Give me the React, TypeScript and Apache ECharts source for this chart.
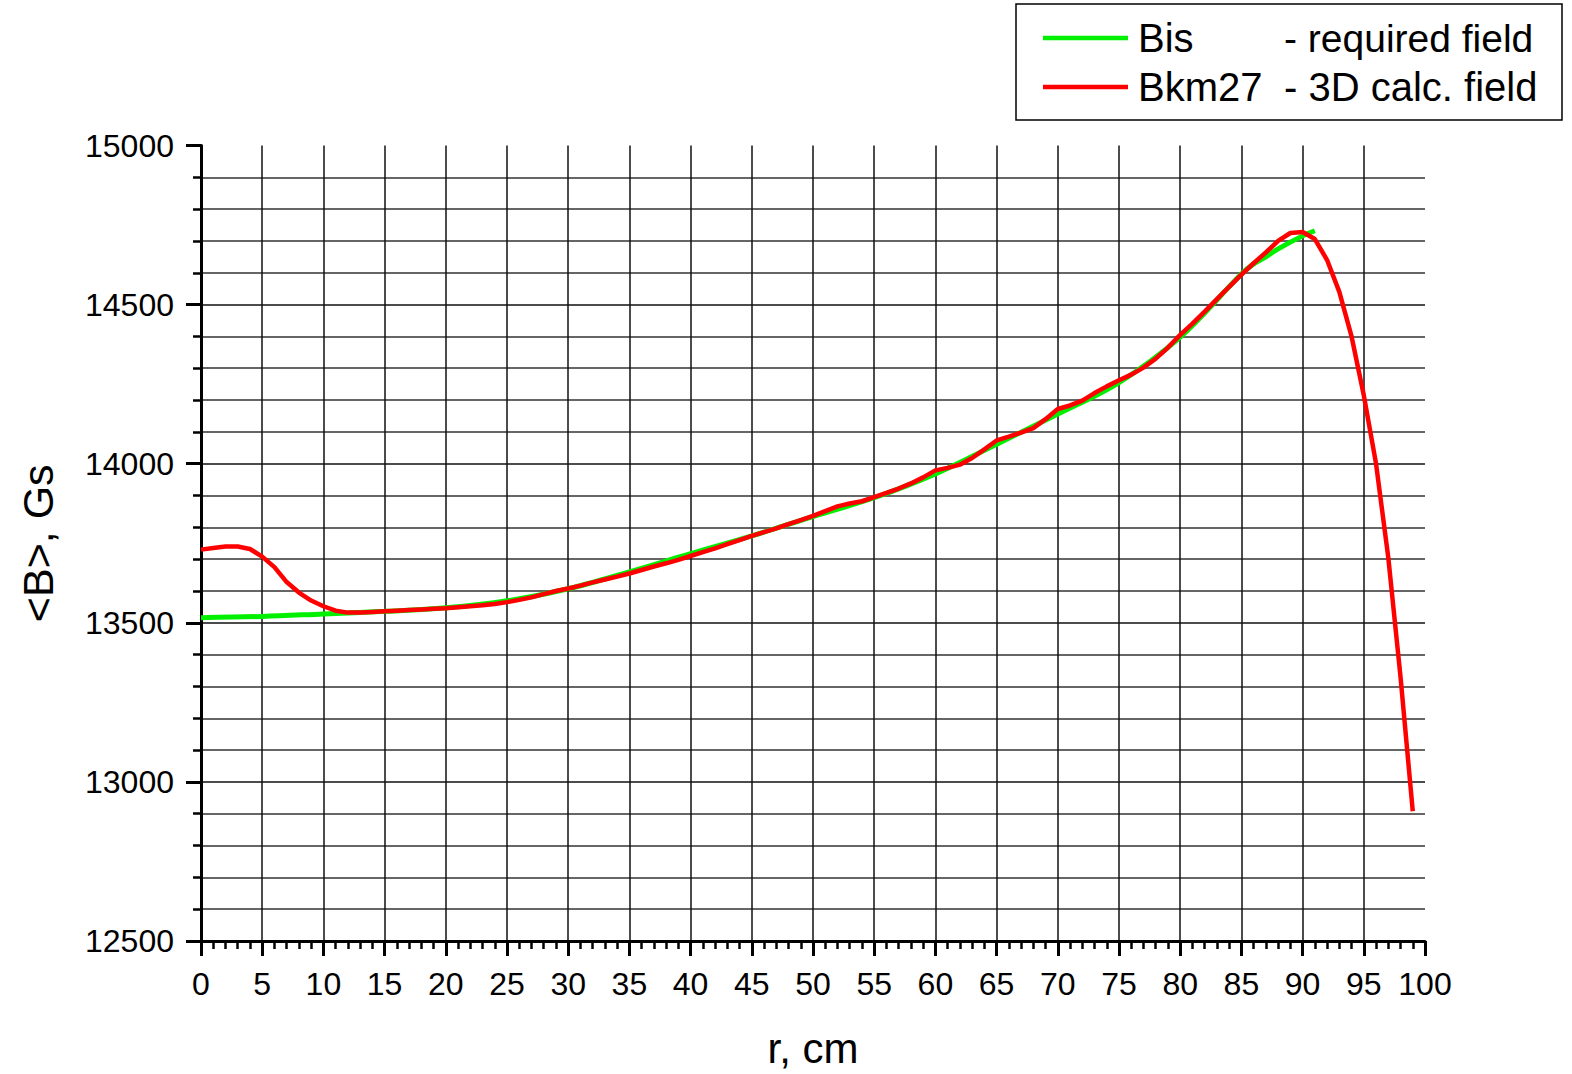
import React, { useEffect, useRef } from "react";
import * as echarts from "echarts";

// r, cm for the Bkm27 (3D calculated field) curve
const bkmRadius = [
  0, 1, 2, 3, 4, 5, 6, 7, 8, 9, 10, 11, 12, 13, 14, 15, 16, 17, 18, 19,
  20, 21, 22, 23, 24, 25, 26, 27, 28, 29, 30, 31, 32, 33, 34, 35, 36, 37, 38, 39,
  40, 41, 42, 43, 44, 45, 46, 47, 48, 49, 50, 51, 52, 53, 54, 55, 56, 57, 58, 59,
  60, 61, 62, 63, 64, 65, 66, 67, 68, 69, 70, 71, 72, 73, 74, 75, 76, 77, 78, 79,
  80, 81, 82, 83, 84, 85, 86, 87, 88, 89, 90, 91, 92, 93, 94, 95, 96, 97, 98, 99,
];
// <B>, Gs for Bkm27
const bkmField = [
  13730, 13735, 13740, 13740, 13732, 13708, 13675, 13628, 13595, 13570,
  13552, 13538, 13532, 13532, 13534, 13536, 13538, 13540, 13542, 13544,
  13546, 13549, 13552, 13555, 13559, 13565, 13572, 13580, 13590, 13600,
  13608, 13617, 13627, 13636, 13645, 13655, 13666, 13677, 13687, 13698,
  13710, 13722, 13734, 13747, 13760, 13773, 13785, 13797, 13810, 13823,
  13836, 13851, 13866, 13875, 13882, 13895, 13908, 13922, 13938, 13957,
  13979, 13987, 13997, 14018, 14045, 14073, 14085, 14098, 14112, 14140,
  14172, 14183, 14198, 14222, 14243, 14262, 14280, 14302, 14330, 14365,
  14405, 14440, 14478, 14517, 14556, 14594, 14630, 14664, 14700, 14725,
  14728, 14706, 14640, 14540, 14400, 14215, 14000, 13705, 13330, 12908,
];

// r, cm for the Bis (required field) curve
const bisRadius = [0, 5, 10, 15, 20, 25, 30, 35, 40, 45, 50, 55, 60, 65, 70, 75, 80, 85, 86, 87, 88, 90, 91];
// <B>, Gs for Bis
const bisField = [
  13516, 13520, 13528, 13536, 13547, 13569, 13607, 13660, 13717, 13773, 13834, 13893,
  13968, 14061, 14156, 14255, 14398, 14596, 14628, 14650, 14675, 14716, 14732,
];

const seriesNames = ["Bis", "Bkm27"];
const seriesNotes = ["- required field", "- 3D calc. field"];
const xTitle = "r, cm";
const yTitle = "<B>, Gs";

const FONT = "'Liberation Sans', Arial, sans-serif";
const GREEN = "#00f000";
const RED = "#ff0000";

export default function App() {
  const ref = useRef<HTMLDivElement>(null);

  useEffect(() => {
    if (!ref.current) return;
    const chart = echarts.init(ref.current, null, { renderer: "svg" });

    const bisData = bisRadius.map((r, i) => [r, bisField[i]]);
    const bkmData = bkmRadius.map((r, i) => [r, bkmField[i]]);

    chart.setOption({
      animation: false,
      backgroundColor: "#ffffff",
      grid: { left: 201, right: 147, top: 145.5, bottom: 131, containLabel: false },
      xAxis: {
        type: "value",
        min: 0,
        max: 100,
        interval: 5,
        name: xTitle,
        nameLocation: "middle",
        nameGap: 86,
        nameTextStyle: { fontSize: 42, color: "#000", fontFamily: FONT },
        axisLine: { show: true, onZero: false, lineStyle: { color: "#000", width: 3 } },
        axisTick: { show: true, length: 15, lineStyle: { color: "#000", width: 3 } },
        minorTick: { show: true, splitNumber: 5, length: 8, lineStyle: { color: "#000", width: 2.5 } },
        axisLabel: { fontSize: 32, color: "#000", fontFamily: FONT, margin: 27, formatter: (v: number) => String(v) },
        splitLine: { show: true, showMaxLine: false, lineStyle: { color: "#111", width: 1.5 } },
      },
      yAxis: {
        type: "value",
        min: 12500,
        max: 15000,
        interval: 500,
        name: yTitle,
        nameLocation: "middle",
        nameRotate: 90,
        nameGap: 142,
        nameTextStyle: { fontSize: 43, color: "#000", fontFamily: FONT },
        axisLine: { show: true, onZero: false, lineStyle: { color: "#000", width: 3 } },
        axisTick: { show: true, length: 15, lineStyle: { color: "#000", width: 3 } },
        minorTick: { show: true, splitNumber: 5, length: 8, lineStyle: { color: "#000", width: 2.5 } },
        axisLabel: { fontSize: 32, color: "#000", fontFamily: FONT, margin: 27, formatter: (v: number) => String(v) },
        splitLine: { show: true, showMaxLine: false, lineStyle: { color: "#111", width: 1.5 } },
        minorSplitLine: { show: true, lineStyle: { color: "#333", width: 1.5 } },
      },
      series: [
        {
          name: seriesNames[0],
          type: "line",
          data: bisData,
          showSymbol: false,
          smooth: 0.35,
          lineStyle: { color: GREEN, width: 5 },
          itemStyle: { color: GREEN },
          z: 3,
        },
        {
          name: seriesNames[1],
          type: "line",
          data: bkmData,
          showSymbol: false,
          smooth: false,
          lineStyle: { color: RED, width: 4.5 },
          itemStyle: { color: RED },
          z: 4,
        },
      ],
      graphic: [
        {
          type: "rect",
          shape: { x: 1016, y: 4, width: 546, height: 116 },
          style: { fill: "#fff", stroke: "#000", lineWidth: 1.5 },
          z: 10,
        },
        {
          type: "line",
          shape: { x1: 1043, y1: 38, x2: 1128, y2: 38 },
          style: { stroke: GREEN, lineWidth: 4.5 },
          z: 11,
        },
        {
          type: "line",
          shape: { x1: 1043, y1: 87, x2: 1128, y2: 87 },
          style: { stroke: RED, lineWidth: 4.5 },
          z: 11,
        },
        {
          type: "text",
          x: 1138,
          y: 38,
          style: { text: seriesNames[0], fontSize: 40, fontFamily: FONT, fill: "#000", verticalAlign: "middle" },
          z: 11,
        },
        {
          type: "text",
          x: 1284,
          y: 38,
          style: { text: seriesNotes[0], fontSize: 39, fontFamily: FONT, fill: "#000", verticalAlign: "middle" },
          z: 11,
        },
        {
          type: "text",
          x: 1138,
          y: 87,
          style: { text: seriesNames[1], fontSize: 40, fontFamily: FONT, fill: "#000", verticalAlign: "middle" },
          z: 11,
        },
        {
          type: "text",
          x: 1284,
          y: 87,
          style: { text: seriesNotes[1], fontSize: 40, fontFamily: FONT, fill: "#000", verticalAlign: "middle" },
          z: 11,
        },
      ],
    });

    return () => chart.dispose();
  }, []);

  return (
    <div
      ref={ref}
      style={{ position: "absolute", left: 0, top: 0, width: 1572, height: 1074, background: "#fff" }}
    />
  );
}
